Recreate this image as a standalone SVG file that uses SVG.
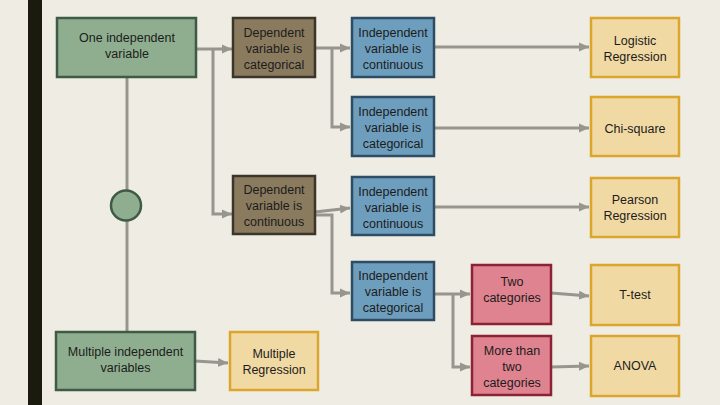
<svg xmlns="http://www.w3.org/2000/svg" width="720" height="405" viewBox="0 0 720 405">
<defs>
<marker id="arr" markerUnits="userSpaceOnUse" markerWidth="12" markerHeight="12" viewBox="0 0 12 12" refX="10" refY="6" orient="auto">
<path d="M0,1.5 L10,6 L0,10.5 Z" fill="#96968e"/>
</marker>
<style>
text{font-family:"Liberation Sans",Arial,sans-serif;font-size:12.5px;fill:#1c1c1c;text-anchor:middle}
.g{fill:#8fae8f;stroke:#3f5a45;stroke-width:2.5}
.b{fill:#8a7b5f;stroke:#3b352a;stroke-width:2.5}
.bl{fill:#6e9ebd;stroke:#2e4d64;stroke-width:2.5}
.p{fill:#e08390;stroke:#8c2334;stroke-width:2.5}
.y{fill:#f1d9a4;stroke:#dca52c;stroke-width:2.5}
.c{fill:none;stroke:#96968e;stroke-width:3}
.ca{fill:none;stroke:#96968e;stroke-width:3;marker-end:url(#arr)}
</style>
</defs>
<rect width="720" height="405" fill="#efece4"/>
<rect x="28" y="0" width="14" height="405" fill="#1a1b0e"/>
<g id="connectors">
<line class="c" x1="127" y1="77" x2="127" y2="190"/>
<line class="c" x1="127" y1="220" x2="127" y2="332"/>
<polyline class="ca" points="196,49 232,49"/>
<polyline class="ca" points="213,49 213,214 232,214"/>
<polyline class="ca" points="315,48 350,48"/>
<polyline class="ca" points="332,48 332,127 350,127"/>
<polyline class="ca" points="433,47 589,47"/>
<polyline class="ca" points="433,128 589,128"/>
<polyline class="ca" points="315,212 350,208"/>
<polyline class="ca" points="315,215 332,215 332,293 350,293"/>
<polyline class="ca" points="433,207 589,207"/>
<polyline class="ca" points="433,294 470,294"/>
<polyline class="ca" points="453,294 453,367 470,367"/>
<polyline class="ca" points="551,293 589,296"/>
<polyline class="ca" points="551,367 589,366"/>
<polyline class="ca" points="195,361 228,363"/>
</g>
<g id="one-independent"><rect class="g" x="57" y="18" width="139" height="59"/><text x="127" y="42">One independent</text><text x="127" y="58">variable</text></g>
<g id="circle"><circle class="g" cx="126" cy="205.5" r="15"/></g>
<g id="multiple-independent"><rect class="g" x="56" y="332" width="139" height="58"/><text x="125.5" y="356">Multiple independent</text><text x="125.5" y="372">variables</text></g>
<g id="dep-categorical"><rect class="b" x="233" y="18" width="82" height="59"/><text x="274" y="37">Dependent</text><text x="274" y="53">variable is</text><text x="274" y="69">categorical</text></g>
<g id="dep-continuous"><rect class="b" x="233" y="176" width="82" height="58"/><text x="274" y="194">Dependent</text><text x="274" y="210">variable is</text><text x="274" y="226">continuous</text></g>
<g id="ind-continuous-1"><rect class="bl" x="352" y="18" width="82" height="59"/><text x="393" y="37">Independent</text><text x="393" y="53">variable is</text><text x="393" y="69">continuous</text></g>
<g id="ind-categorical-1"><rect class="bl" x="352" y="97" width="82" height="59"/><text x="393" y="116">Independent</text><text x="393" y="132">variable is</text><text x="393" y="148">categorical</text></g>
<g id="ind-continuous-2"><rect class="bl" x="352" y="177" width="82" height="58"/><text x="393" y="196">Independent</text><text x="393" y="212">variable is</text><text x="393" y="228">continuous</text></g>
<g id="ind-categorical-2"><rect class="bl" x="352" y="262" width="82" height="58"/><text x="393" y="280">Independent</text><text x="393" y="296">variable is</text><text x="393" y="312">categorical</text></g>
<g id="two-categories"><rect class="p" x="472" y="265" width="79" height="59"/><text x="512" y="286">Two</text><text x="512" y="302">categories</text></g>
<g id="more-than-two"><rect class="p" x="472" y="336" width="79" height="59"/><text x="512" y="355">More than</text><text x="512" y="371">two</text><text x="512" y="387">categories</text></g>
<g id="logistic"><rect class="y" x="591" y="18" width="88" height="59"/><text x="635" y="45">Logistic</text><text x="635" y="61">Regression</text></g>
<g id="chi-square"><rect class="y" x="591" y="97" width="88" height="59"/><text x="635" y="133">Chi-square</text></g>
<g id="pearson"><rect class="y" x="591" y="178" width="88" height="59"/><text x="635" y="204">Pearson</text><text x="635" y="220">Regression</text></g>
<g id="t-test"><rect class="y" x="591" y="265" width="88" height="60"/><text x="635" y="299">T-test</text></g>
<g id="anova"><rect class="y" x="591" y="336" width="88" height="60"/><text x="635" y="370">ANOVA</text></g>
<g id="multiple-regression"><rect class="y" x="230" y="332" width="88" height="58"/><text x="274" y="358">Multiple</text><text x="274" y="374">Regression</text></g>
</svg>
